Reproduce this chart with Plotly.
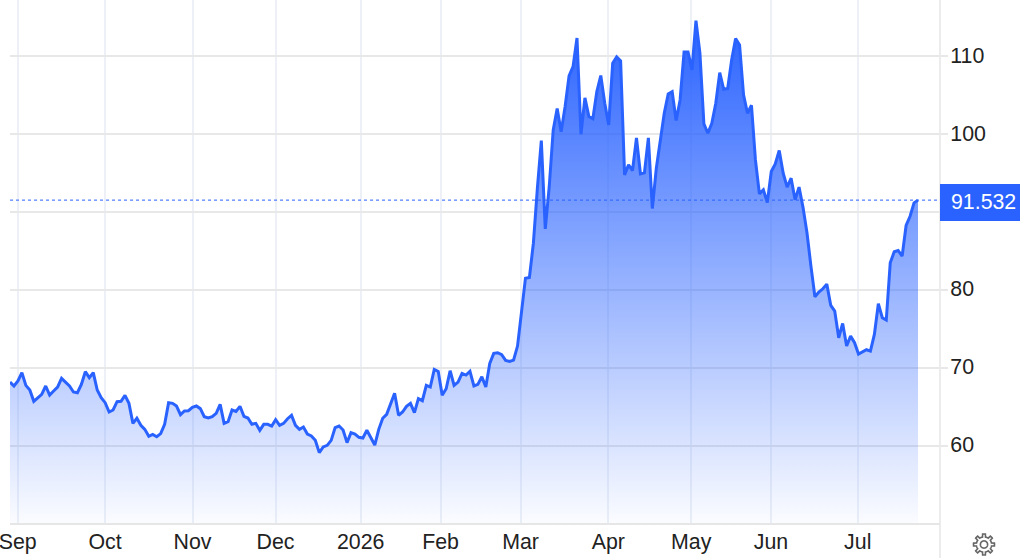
import numpy as np
import plotly.graph_objects as go

tick_labels = ["Sep", "Oct", "Nov", "Dec", "2026", "Feb", "Mar", "Apr", "May", "Jun", "Jul"]
tick_sessions = [1.94, 23.96, 46.03, 66.96, 88.45, 108.6, 128.75, 150.9, 171.8, 191.9, 213.8]
y_ticks = [60, 70, 80, 90, 100, 110]
y_tick_text = ["60", "70", "80", "", "100", "110"]
last_price = 91.532

values_2025 = [
    68.16, 67.65, 68.29, 69.36, 67.73, 67.13, 65.68, 66.15, 66.58, 67.65, 66.49, 67.0, 67.52, 68.63, 68.16,
    67.65, 66.88, 66.79, 67.86, 69.49, 68.72, 69.36, 67.13, 66.15, 65.51, 64.31, 64.57, 65.64, 65.68, 66.45,
    65.42, 62.85, 63.5, 62.6, 62.08, 61.19, 61.44, 61.14, 61.53, 62.73, 65.51, 65.42, 65.08, 63.97, 64.44,
    64.48, 64.91, 65.08, 64.74, 63.71, 63.54, 63.71, 64.14, 65.29, 62.85, 63.07, 64.57, 64.39, 65.04, 63.75,
    63.54, 62.73, 62.85, 61.96, 62.73, 62.73, 62.51, 63.32, 62.6, 62.85, 63.45, 63.88, 62.6, 62.08, 62.38,
    61.48, 61.23, 60.67, 59.09, 59.82, 60.03, 60.67, 62.3, 62.51,
]
values_early_2026 = [
    62.0, 60.37, 61.66, 61.48, 61.06, 60.97, 61.96, 60.97, 60.07, 62.08, 63.5, 64.01, 65.51, 66.71, 63.88,
    64.31, 65.04, 65.42, 64.22, 66.02, 65.76, 67.73, 67.52, 69.79, 69.53, 66.45, 67.3, 69.61, 67.73, 68.16,
    69.27, 69.06, 69.53, 67.65, 67.86, 68.84, 67.52, 70.56, 71.84, 71.93, 71.67, 70.94, 70.81, 70.98, 72.78,
]
values_spike = [
    77.4, 81.5, 81.59, 86.0, 93.0, 99.18, 87.84, 93.28, 100.55, 103.29, 100.3, 103.55, 107.49, 108.68, 112.36,
    99.99, 104.66, 102.26, 102.0, 105.47, 107.53, 103.98, 101.19, 109.11, 109.92, 109.41, 94.78, 96.06, 95.33,
    99.52, 94.9, 95.03, 99.52, 90.45, 95.63, 99.27, 102.69, 105.17, 105.47, 101.75, 104.4, 110.57, 110.57,
    108.26, 114.59, 110.4, 101.32, 100.12, 101.41, 103.98, 107.91, 105.77, 105.86, 109.54, 112.28, 111.47,
    105.05, 102.69, 103.72, 96.7, 92.34, 92.85, 91.23, 95.2, 96.19, 97.9, 94.99, 93.2, 94.35, 91.57, 93.2,
]
values_recent = [
    90.6, 87.33, 83.05, 79.11, 79.71, 80.14, 80.74, 78.0, 77.27, 73.85, 75.69, 72.78, 74.06, 73.21, 71.75,
    72.01, 72.31, 72.14, 74.28, 78.22, 76.42, 76.12, 83.47, 84.89, 85.06, 84.33, 88.27, 89.46, 91.18, 91.532,
]
values = values_2025 + values_early_2026 + values_spike + values_recent
sessions = list(range(len(values)))

BLUE = "#2962ff"
W, H = 1020, 558
L, R, T, B = 10, 80, 0, 35
PLOT_W, PLOT_H = W - L - R, H - T - B
step = 908 / 229
x_max = PLOT_W / step
FONT = 21.33


def paper_x(px):
    return (px - L) / PLOT_W


def paper_y(py):
    return (H - B - py) / PLOT_H


fig = go.Figure()
fig.add_trace(go.Scatter(
    x=sessions, y=values, mode="lines", line=dict(color=BLUE, width=3), fill="tozeroy",
    fillgradient=dict(type="vertical", start=50, stop=114.6,
                      colorscale=[[0, "rgba(41,98,255,0.02)"], [1, "rgba(41,98,255,1)"]]),
    hoverinfo="skip", showlegend=False,
))

# gear icon
angles = np.linspace(0, 2 * np.pi, 97)
radii = 7.6 + 2.9 * (np.cos(angles * 8) > 0.1)
gx, gy = 984 + radii * np.sin(angles), 544.5 - radii * np.cos(angles)
gear = "M " + " L ".join(f"{paper_x(a):.5f},{paper_y(b):.5f}" for a, b in zip(gx, gy)) + " Z"
hx, hy = 984 + 3.6 * np.sin(angles), 544.5 - 3.6 * np.cos(angles)
hole = "M " + " L ".join(f"{paper_x(a):.5f},{paper_y(b):.5f}" for a, b in zip(hx, hy)) + " Z"

shapes = [
    dict(type="line", xref="paper", yref="y", x0=0, x1=1, y0=last_price, y1=last_price,
         line=dict(color=BLUE, width=1, dash="dot"), layer="above"),
    dict(type="line", xref="paper", yref="paper", x0=1, x1=1, y0=paper_y(558), y1=1,
         line=dict(color="#e6e6e6", width=1.5), layer="below"),
    dict(type="rect", xref="paper", yref="paper", x0=1, x1=paper_x(1020), y0=paper_y(221), y1=paper_y(184),
         fillcolor=BLUE, line=dict(width=0), layer="above"),
    dict(type="path", xref="paper", yref="paper", path=gear, line=dict(color="#666666", width=1.6)),
    dict(type="path", xref="paper", yref="paper", path=hole, line=dict(color="#666666", width=1.6)),
]

annotations = [dict(
    xref="paper", yref="y", x=1, y=last_price, xanchor="center", yanchor="middle",
    xshift=43.5, yshift=-1.5, showarrow=False,
    text=f"{last_price:.3f}", font=dict(family="Liberation Sans", size=FONT, color="white"),
)]

fig.update_layout(
    width=W, height=H, margin=dict(l=L, r=R, t=T, b=B), paper_bgcolor="white", plot_bgcolor="white",
    font=dict(family="Liberation Sans", size=FONT, color="#222222"),
    shapes=shapes, annotations=annotations, showlegend=False,
    xaxis=dict(range=[0, x_max], tickmode="array", tickvals=tick_sessions, ticktext=tick_labels,
               showgrid=True, gridcolor="#edf1f7", gridwidth=1.5, zeroline=False, showline=True,
               linecolor="#e6e6e6", linewidth=1.5, ticks="", ticklabeloverflow="allow", ticklabelstandoff=-1,
               tickfont=dict(size=FONT, color="#222222")),
    yaxis=dict(range=[50.05, 117.24], side="right", tickmode="array", tickvals=y_ticks, ticktext=y_tick_text,
               showgrid=True, gridcolor="#e8e8e8", gridwidth=1.5, zeroline=False, showline=False,
               ticks="outside", ticklen=7, tickcolor="#e8e8e8", tickwidth=1.5, ticklabelstandoff=-2,
               ticklabelshift=-1, tickfont=dict(size=FONT, color="#222222")),
)

fig.write_html("out.html", post_script="document.body.style.margin='0';", config={"displayModeBar": False})
